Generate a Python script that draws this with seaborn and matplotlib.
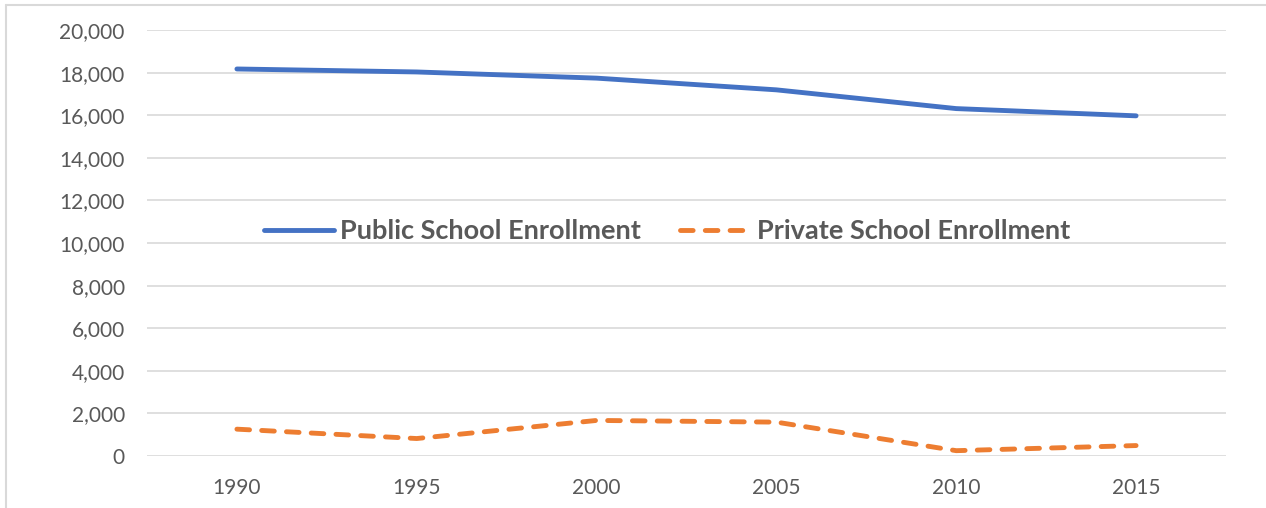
import numpy as np
import pandas as pd
import seaborn as sns
import matplotlib.pyplot as plt
from matplotlib.lines import Line2D

years = [1990, 1995, 2000, 2005, 2010, 2015]
public = [18170, 18030, 17740, 17190, 16310, 15970]
private = [1260, 820, 1670, 1590, 250, 490]
series_names = ['Public School Enrollment', 'Private School Enrollment']
y_ticks = list(range(0, 20001, 2000))

df = pd.DataFrame({
    'Year': years + years,
    'Enrollment': public + private,
    'Series': [series_names[0]] * len(years) + [series_names[1]] * len(years),
})

sns.set_theme(style='white')
plt.rcParams['font.family'] = ['Lato', 'DejaVu Sans']

grey = '#595959'
fig = plt.figure(figsize=(12.66, 5.08), dpi=100)
ax = fig.add_axes([147 / 1266, 1 - 456 / 508, (1226 - 147) / 1266, (456 - 30) / 508])

sns.lineplot(data=df, x='Year', y='Enrollment', hue='Series', style='Series',
             palette={series_names[0]: '#4472C4', series_names[1]: '#ED7D31'},
             dashes={series_names[0]: '', series_names[1]: (2.6, 2.5)},
             linewidth=3.5, ax=ax, legend=False)
for line in ax.lines:
    line.set_solid_capstyle('round')
    line.set_dash_capstyle('round')

ax.set_xlim(1987.5, 2017.5)
ax.set_ylim(0, 20000)
ax.set_xticks(years)
ax.set_yticks(y_ticks)
ax.set_yticklabels([f'{v:,}' for v in y_ticks])
ax.set_xlabel('')
ax.set_ylabel('')
ax.grid(axis='y', color='#D9D9D9', linewidth=1.2)
ax.set_axisbelow(True)
for s in ax.spines.values():
    s.set_visible(False)
ax.tick_params(axis='both', length=0, labelsize=15, labelcolor=grey)
ax.tick_params(axis='y', pad=16)
ax.tick_params(axis='x', pad=16)

handles = [
    Line2D([], [], color='#4472C4', lw=3.5, solid_capstyle='round'),
    Line2D([], [], color='#ED7D31', lw=3.5, dashes=(2.6, 2.5), dash_capstyle='round'),
]
leg = ax.legend(handles, series_names, loc='center', bbox_to_anchor=(667 / 1266, 1 - 231 / 508),
                bbox_transform=fig.transFigure, ncol=2, frameon=False,
                handlelength=2.6, handletextpad=0.22, columnspacing=1.44,
                prop={'weight': 'bold', 'size': 19.5})
for t in leg.get_texts():
    t.set_color(grey)

# chart border (cropped on right and bottom)
fig.add_artist(Line2D([6 / 1266, 1], [1 - 5 / 508, 1 - 5 / 508], color='#D9D9D9', lw=1.5))
fig.add_artist(Line2D([6 / 1266, 6 / 1266], [0, 1 - 5 / 508], color='#D9D9D9', lw=1.5))

fig.savefig('out.png', dpi=100)
